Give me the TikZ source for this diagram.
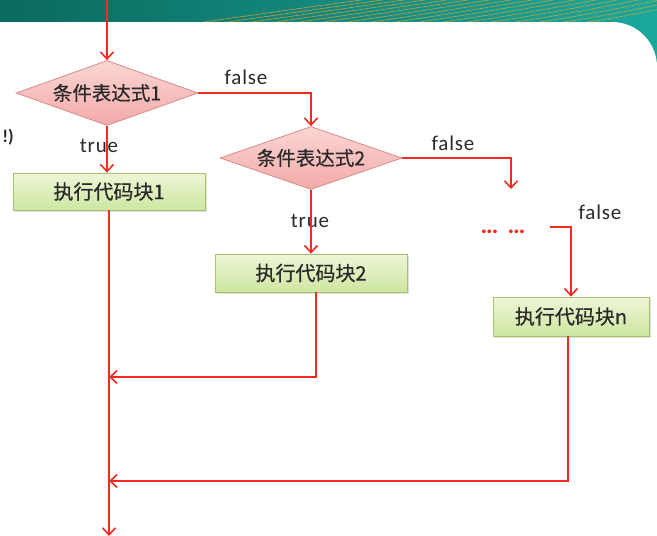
\documentclass[tikz,border=0pt]{standalone}
\usepackage{fontspec}
\setmainfont{Carlito}
\newfontfamily\cjk[FakeBold=0.6]{Noto Sans CJK SC}
\usetikzlibrary{shapes.geometric,arrows.meta,shadows}
\definecolor{arrowred}{HTML}{F42A1E}
\definecolor{txt}{HTML}{2A2A2A}
\definecolor{tealdark}{HTML}{0B6A5F}
\definecolor{teallight}{HTML}{1AA89C}
\definecolor{gold}{HTML}{E0A030}
\definecolor{boxborder}{HTML}{A8C070}
\definecolor{boxtop}{HTML}{EEF6D8}
\definecolor{boxbot}{HTML}{CDE6A0}
\definecolor{diaborder}{HTML}{D88C8A}
\definecolor{diatop}{HTML}{FAD6D4}
\definecolor{diabot}{HTML}{F3AAA8}
\tikzset{
  decision/.style={diamond, aspect=2.8, draw=diaborder, line width=0.8pt,
    top color=diatop, bottom color=diabot, inner sep=0pt,
    minimum width=182pt, minimum height=65pt, font=\cjk\fontsize{19.5}{21}\selectfont, text=txt},
  codebox/.style={rectangle, draw=boxborder, line width=0.8pt,
    top color=boxtop, bottom color=boxbot, inner sep=0pt,
    minimum width=192pt, minimum height=37pt, font=\cjk\fontsize{20}{21}\selectfont, text=txt,
    drop shadow={shadow xshift=1.5pt, shadow yshift=-1.5pt, opacity=0.25}},
  flow/.style={draw=arrowred, line width=1.6pt, -{Straight Barb[length=7pt,width=13pt,line width=1.6pt]}},
  lbl/.style={font=\addfontfeature{LetterSpace=4}\fontsize{21}{22}\selectfont, text=txt, inner sep=0pt}
}
\begin{document}
\begin{tikzpicture}[x=1pt,y=-1pt]
\useasboundingbox (0,0) rectangle (657,536);
% header band
\shade[left color=tealdark, right color=teallight] (0,0) rectangle (657,70);
\begin{scope}
  \clip (0,0) rectangle (657,22);
  \foreach \i in {0,...,16} {
    \draw[gold, line width=0.6pt, opacity=0.85]
      ({190+24*\i},24) .. controls ({260+24*\i},14) and ({330+22*\i},4) .. ({420+20*\i},-8);
  }
\end{scope}
\fill[white] (0,22) -- (612,22) arc[start angle=90, end angle=0, radius=45pt] -- (657,536) -- (0,536) -- cycle;
% fragment text
\node[font=\bfseries\fontsize{18}{19}\selectfont, text=txt, inner sep=0pt] (frag) at (8,137) {!)};
% nodes
\node[decision] (d1) at (107,93) {条件表达式1};
\node[decision, minimum height=63pt] (d2) at (311,158) {条件表达式2};
\node[codebox] (b1) at (109,191.5) {执行代码块1};
\node[codebox, minimum height=38pt] (b2) at (311,273) {执行代码块2};
\node[codebox, minimum width=156pt, minimum height=39pt] (bn) at (571,316.5) {执行代码块n};
\node[font=\bfseries\addfontfeature{LetterSpace=14}\fontsize{25}{25}\selectfont, text=arrowred, inner sep=0pt] (dots) at (503,232) {… …};
% labels
\node[lbl] (f1) at (246,77) {false};
\node[lbl] (t1) at (99,146) {true};
\node[lbl] (f2) at (453,143) {false};
\node[lbl] (t2) at (310,221) {true};
\node[lbl] (f3) at (600,212) {false};
% coordinates
\coordinate (top) at (107,0);
\coordinate (c3) at (511,189);
\coordinate (c4) at (550,227);
\coordinate (bot) at (109,536);
\coordinate (m1) at (109,377);
\coordinate (m2) at (109,481);
% connectors
\draw[flow] (top) -- (d1.north);
\draw[flow] (d1.east) -| (d2.north);
\draw[flow] (d1.south) -- (d1.south |- b1.north);
\draw[flow] (d2.south) -- (b2.north);
\draw[flow] (d2.east) -| (c3);
\draw[flow] (c4) -| (bn.north);
\draw[flow] (b1.south) -- (bot);
\draw[flow] ([xshift=5pt]b2.south) |- (m1);
\draw[flow] ([xshift=-3pt]bn.south) |- (m2);
\end{tikzpicture}
\end{document}
